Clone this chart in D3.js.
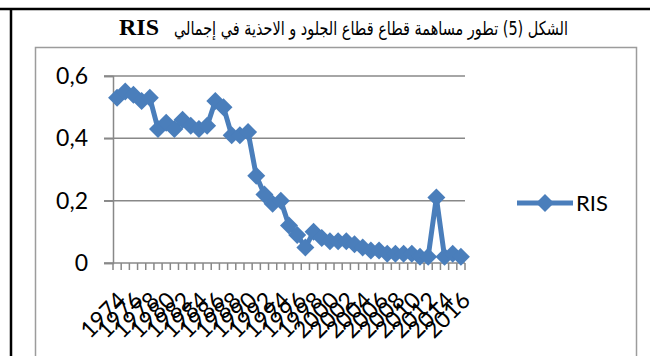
<!DOCTYPE html>
<html>
<head>
<meta charset="utf-8">
<script src="https://cdn.jsdelivr.net/npm/d3@7"></script>
<style>
  html, body { margin: 0; padding: 0; background: #fff; }
  svg { display: block; }
</style>
</head>
<body>
<svg id="chart" width="650" height="356"></svg>
<script>
// Share of the leather and footwear sector in total RIS, 1974-2016
const years = d3.range(1974, 2017);
const risValues = [
  0.53, 0.55, 0.54, 0.52, 0.53, 0.43, 0.45, 0.43, 0.46, 0.44,
  0.43, 0.44, 0.52, 0.50, 0.41, 0.41, 0.42, 0.28, 0.22, 0.19,
  0.20, 0.12, 0.09, 0.05, 0.10, 0.08, 0.07, 0.07, 0.07, 0.06,
  0.05, 0.04, 0.04, 0.03, 0.03, 0.03, 0.03, 0.02, 0.02, 0.21,
  0.02, 0.03, 0.02
];
const yTicks = [0, 0.2, 0.4, 0.6];
const yTickLabels = ["0", "0,2", "0,4", "0,6"];
const xTickLabels = years.filter(y => (y - 1974) % 2 === 0).map(String);
const seriesName = "RIS";
const titleArabic = "الشكل (5) تطور مساهمة قطاع قطاع الجلود و الاحذية في إجمالي";
const titleLatin = "RIS";

const blue = "#4a7ebb";
const gridGrey = "#888888";

const svg = d3.select("#chart");

// page frame lines
svg.append("line").attr("x1", 0).attr("x2", 650).attr("y1", 9).attr("y2", 9)
  .attr("stroke", "#000").attr("stroke-width", 2.5);
svg.append("line").attr("x1", 11).attr("x2", 11).attr("y1", 9).attr("y2", 356)
  .attr("stroke", "#000").attr("stroke-width", 2.5);

// title: Arabic part right-aligned, Latin "RIS" at its left end
svg.append("text")
  .attr("x", 568).attr("y", 35)
  .attr("direction", "rtl")
  .attr("text-anchor", "start")
  .attr("font-family", "'DejaVu Sans', serif")
  .attr("font-size", 19)
  .attr("textLength", 394)
  .attr("lengthAdjust", "spacingAndGlyphs")
  .attr("fill", "#000")
  .text(titleArabic);
svg.append("text")
  .attr("x", 119).attr("y", 35)
  .attr("font-family", "'Liberation Serif', serif")
  .attr("font-size", 24)
  .attr("font-weight", "bold")
  .attr("fill", "#000")
  .text(titleLatin);

// chart area border
svg.append("rect")
  .attr("x", 35.5).attr("y", 47.5).attr("width", 601).attr("height", 330)
  .attr("fill", "none").attr("stroke", "#9c9c9c").attr("stroke-width", 1.5);

const x = d3.scaleBand().domain(years).range([113, 465]).padding(0);
const y = d3.scaleLinear().domain([0, 0.6]).range([263, 76]);
const cx = d => x(d) + x.bandwidth() / 2;

// horizontal gridlines
svg.append("g").selectAll("line")
  .data(yTicks.filter(t => t > 0))
  .join("line")
  .attr("x1", 104).attr("x2", 465)
  .attr("y1", d => y(d)).attr("y2", d => y(d))
  .attr("stroke", gridGrey).attr("stroke-width", 1.5);

// y axis
const yAxis = d3.axisLeft(y).tickValues(yTicks).tickSize(9)
  .tickFormat((d, i) => yTickLabels[i]);
const gy = svg.append("g").attr("transform", "translate(113,0)").call(yAxis);
gy.select(".domain").attr("stroke", gridGrey).attr("stroke-width", 1.5);
gy.selectAll(".tick line").attr("stroke", gridGrey).attr("stroke-width", 1.5);
gy.selectAll(".tick text")
  .attr("x", -25)
  .attr("font-family", "Lato, 'Open Sans', sans-serif")
  .attr("font-size", 23)
  .attr("fill", "#000");

// x axis: ticks at category boundaries
const boundaries = years.map(d => x(d)).concat([x.range()[1]]);
const gx = svg.append("g");
gx.append("line")
  .attr("x1", 104).attr("x2", 465).attr("y1", y(0)).attr("y2", y(0))
  .attr("stroke", gridGrey).attr("stroke-width", 1.5);
gx.selectAll("line.tk").data(boundaries).join("line")
  .attr("class", "tk")
  .attr("x1", d => d).attr("x2", d => d)
  .attr("y1", y(0)).attr("y2", y(0) + 7)
  .attr("stroke", gridGrey).attr("stroke-width", 1.5);
gx.selectAll("text").data(xTickLabels).join("text")
  .attr("transform", d => `translate(${cx(+d) - 1},${y(0) + 27}) rotate(-45)`)
  .attr("text-anchor", "end")
  .attr("dy", "0.72em")
  .attr("font-family", "Lato, 'Open Sans', sans-serif")
  .attr("font-size", 23)
  .attr("fill", "#000")
  .text(d => d);

// series line
const line = d3.line().x((d, i) => cx(years[i])).y(d => y(d));
svg.append("path")
  .datum(risValues)
  .attr("d", line)
  .attr("fill", "none")
  .attr("stroke", blue)
  .attr("stroke-width", 5)
  .attr("stroke-linejoin", "round");

// diamond markers
const half = 9;
const diamond = `M0,${-half}L${half},0L0,${half}L${-half},0Z`;
svg.append("g").selectAll("path")
  .data(risValues)
  .join("path")
  .attr("transform", (d, i) => `translate(${cx(years[i])},${y(d)})`)
  .attr("d", diamond)
  .attr("fill", blue);

// legend
const lg = svg.append("g").attr("transform", "translate(517,203)");
lg.append("line").attr("x1", 0).attr("x2", 56).attr("y1", 0).attr("y2", 0)
  .attr("stroke", blue).attr("stroke-width", 5);
lg.append("path").attr("transform", "translate(28,0)").attr("d", diamond).attr("fill", blue);
lg.append("text")
  .attr("x", 59).attr("y", 0).attr("dy", "0.36em")
  .attr("font-family", "Lato, 'Open Sans', sans-serif")
  .attr("font-size", 22)
  .attr("fill", "#000")
  .text(seriesName);
</script>
</body>
</html>
